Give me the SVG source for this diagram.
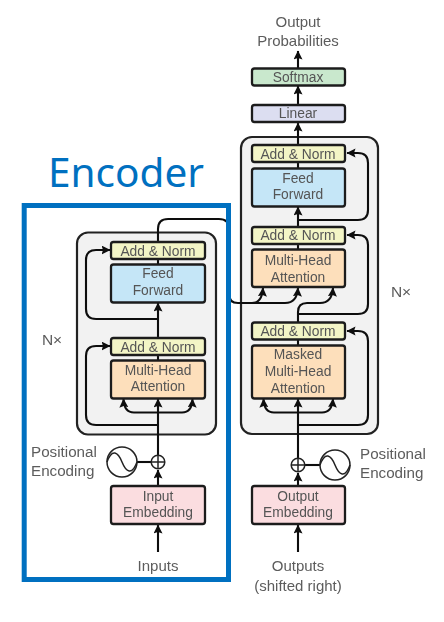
<svg xmlns="http://www.w3.org/2000/svg" width="444" height="622" viewBox="0 0 444 622">
<style>
text{font-family:"Liberation Sans",Arial,sans-serif;font-size:13.8px;fill:#555;text-anchor:middle}
.lbl{font-size:15px;fill:#5c5c5c}
.pos{text-anchor:start;font-size:15.2px;fill:#5c5c5c}
.stack{fill:#f2f2f2;stroke:#222;stroke-width:2.200}
.box{stroke:#1c1c1c;stroke-width:2.300}
.an{fill:#f3f5c6}.ff{fill:#c5e6f7}.mh{fill:#fddfbb}.em{fill:#fbdde0}.sm{fill:#c9e8cd}.li{fill:#dcdef1}
.c{fill:none;stroke:#111;stroke-width:2.100}
.a{marker-end:url(#ah)}
.s{fill:none;stroke:#222;stroke-width:1.500}
</style>
<defs>
<marker id="ah" markerUnits="userSpaceOnUse" markerWidth="10" markerHeight="11" refX="8.500" refY="4.500" orient="auto"><path d="M0 0L9 4.500L0 9L1.500 4.500Z" fill="#111"/></marker>
<filter id="soft" x="0" y="0" width="100%" height="100%"><feGaussianBlur stdDeviation="0.4"/></filter>
</defs>
<rect width="444" height="622" fill="#fff"/>
<g id="diagram" filter="url(#soft)">
<rect width="444" height="622" fill="#fff"/>
<g id="encoder-stack"><rect class="stack" x="77" y="232.500" width="139" height="202" rx="11"/></g>
<g id="decoder-stack"><rect class="stack" x="241" y="137" width="137" height="297" rx="11"/></g>
<g id="connectors">
<path class="c a" d="M158 552V525"/>
<path class="c a" d="M158 486V470"/>
<path class="c a" d="M158 455V399"/>
<path class="c a" d="M158 412.500H134Q124 412.500 123.500 399"/>
<path class="c a" d="M158 412.500H182Q192 412.500 192.500 399"/>
<path class="c a" d="M158 425H96Q86 425 86 415V356Q86 346 96 346H110"/>
<path class="c" d="M158 360V355"/>
<path class="c a" d="M158 338V303"/>
<path class="c a" d="M158 319H96Q86 319 86 309V260Q86 250 96 250H110"/>
<path class="c" d="M158 264V259"/>
<path class="c" d="M158 242V229Q158 219 168 219H219Q229 219 229 229V294Q229 303 238 303H285"/>
<path class="c a" d="M285 303Q297 303 298 288"/>
<path class="c a" d="M240 303H252Q262 303 263 288"/>
<path class="c a" d="M298 552V525"/>
<path class="c a" d="M298 486V473"/>
<path class="c a" d="M298 458V399"/>
<path class="c a" d="M298 412.500H274Q264 412.500 263.500 399"/>
<path class="c a" d="M298 412.500H322Q332 412.500 333 399"/>
<path class="c a" d="M298 425H358Q368 425 368 415V341Q368 331 358 331H347"/>
<path class="c" d="M298 345V340"/>
<path class="c a" d="M298 322V312Q298 303 307 303H320Q332 303 333 288"/>
<path class="c a" d="M298 314H358Q368 314 368 304V245Q368 235 358 235H347"/>
<path class="c" d="M298 249V244"/>
<path class="c a" d="M298 226V207"/>
<path class="c a" d="M298 220H358Q368 220 368 210V163Q368 153 358 153H347"/>
<path class="c" d="M298 168V163"/>
<path class="c a" d="M298 144V123"/>
<path class="c a" d="M298 104V86"/>
<path class="c a" d="M298 68V51"/>
<path class="c" d="M137 462H151"/>
<path class="c" d="M305 465H320"/>
</g>
<g id="enc-add-norm-2"><rect class="box an" x="111" y="242" width="94" height="17" rx="2.500"/><text x="158" y="255.500">Add &amp; Norm</text></g>
<g id="enc-feed-forward"><rect class="box ff" x="111" y="264.500" width="94" height="38" rx="2.500"/><text x="158" y="278">Feed</text><text x="158" y="295">Forward</text></g>
<g id="enc-add-norm-1"><rect class="box an" x="111" y="338" width="94" height="17" rx="2.500"/><text x="158" y="351.500">Add &amp; Norm</text></g>
<g id="enc-attention"><rect class="box mh" x="111" y="360.500" width="94" height="38" rx="2.500"/><text x="158" y="375">Multi-Head</text><text x="158" y="391">Attention</text></g>
<g id="input-embedding"><rect class="box em" x="111" y="486" width="94" height="38" rx="2.500"/><text x="158" y="501">Input</text><text x="158" y="517">Embedding</text></g>
<g id="enc-plus"><circle class="s" cx="158" cy="462" r="6.800"/><path class="s" d="M151.200 462H164.800M158 455.200V468.800"/></g>
<g id="enc-sine"><circle class="s" cx="122" cy="462" r="15"/><path class="s" d="M107 462C112 448 118 452 122 462S132 476 137 462"/></g>
<g id="enc-pos-label"><text class="pos" x="31" y="457">Positional</text><text class="pos" x="31" y="476">Encoding</text></g>
<g id="inputs-label"><text class="lbl" x="158" y="571">Inputs</text></g>
<g id="enc-nx"><text class="lbl" x="52" y="345" style="font-size:15.500px">N×</text></g>
<g id="softmax"><rect class="box sm" x="252" y="68.500" width="93" height="17" rx="2.500"/><text x="298" y="82">Softmax</text></g>
<g id="linear"><rect class="box li" x="252" y="105" width="93" height="17" rx="2.500"/><text x="298" y="118">Linear</text></g>
<g id="dec-add-norm-3"><rect class="box an" x="252" y="145" width="93" height="17" rx="2.500"/><text x="298" y="159">Add &amp; Norm</text></g>
<g id="dec-feed-forward"><rect class="box ff" x="252" y="168.500" width="93" height="38" rx="2.500"/><text x="298" y="183">Feed</text><text x="298" y="199">Forward</text></g>
<g id="dec-add-norm-2"><rect class="box an" x="252" y="227" width="93" height="17" rx="2.500"/><text x="298" y="240">Add &amp; Norm</text></g>
<g id="dec-attention"><rect class="box mh" x="252" y="249.500" width="93" height="37.500" rx="2.500"/><text x="298" y="265">Multi-Head</text><text x="298" y="281.500">Attention</text></g>
<g id="dec-add-norm-1"><rect class="box an" x="252" y="322.500" width="93" height="17" rx="2.500"/><text x="298" y="336">Add &amp; Norm</text></g>
<g id="dec-masked-attention"><rect class="box mh" x="252" y="345.500" width="93" height="53" rx="2.500"/><text x="298" y="359">Masked</text><text x="298" y="376">Multi-Head</text><text x="298" y="392.500">Attention</text></g>
<g id="output-embedding"><rect class="box em" x="252" y="486" width="93" height="38" rx="2.500"/><text x="298" y="501">Output</text><text x="298" y="517">Embedding</text></g>
<g id="dec-plus"><circle class="s" cx="298" cy="465" r="6.800"/><path class="s" d="M291.200 465H304.800M298 458.200V471.800"/></g>
<g id="dec-sine"><circle class="s" cx="335" cy="465" r="15"/><path class="s" d="M320 465C325 451 331 455 335 465S345 479 350 465"/></g>
<g id="dec-pos-label"><text class="pos" x="360" y="459">Positional</text><text class="pos" x="360" y="478">Encoding</text></g>
<g id="outputs-label"><text class="lbl" x="298" y="571">Outputs</text><text class="lbl" x="298" y="590.500">(shifted right)</text></g>
<g id="probabilities-label"><text class="lbl" x="298" y="27">Output</text><text class="lbl" x="298" y="45.500">Probabilities</text></g>
<g id="dec-nx"><text class="lbl" x="401" y="297" style="font-size:15.500px">N×</text></g>
</g>
<g id="encoder-frame"><rect x="24.200" y="205.500" width="204.300" height="374" fill="none" stroke="#0070c0" stroke-width="5"/><text x="126" y="187" style="font-family:'Noto Sans',sans-serif;font-size:40.500px;fill:#0070c0">Encoder</text></g>
</svg>
